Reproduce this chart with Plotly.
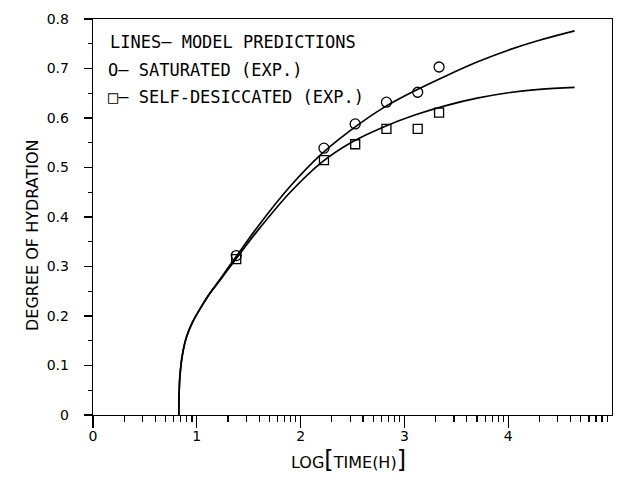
import numpy as np
import plotly.graph_objects as go

# --- data ---
log_time_exp = [1.380, 2.225, 2.526, 2.827, 3.128, 3.334]
saturated_exp = [0.322, 0.539, 0.588, 0.632, 0.652, 0.703]
self_desiccated_exp = [0.315, 0.515, 0.547, 0.578, 0.578, 0.611]

model_x = [0.827, 0.829, 0.838, 0.86, 0.90, 0.96, 1.03, 1.115, 1.22, 1.30, 1.38,
           1.6, 1.9, 2.2, 2.5, 2.8, 3.1, 3.4, 3.7, 4.0, 4.3, 4.64]
model_sat_y = [0.0, 0.04, 0.08, 0.12, 0.157, 0.188, 0.214, 0.243, 0.273, 0.297, 0.320,
               0.384, 0.462, 0.527, 0.578, 0.621, 0.655, 0.685, 0.713, 0.737, 0.757, 0.776]
model_sd_y = [0.0, 0.04, 0.08, 0.12, 0.157, 0.188, 0.214, 0.242, 0.271, 0.294, 0.316,
              0.376, 0.450, 0.510, 0.552, 0.582, 0.606, 0.625, 0.640, 0.651, 0.658, 0.662]

x_major = [0, 1, 2, 3, 4]
x_major_labels = ["0", "1", "2", "3", "4"]
x_minor = [n + np.log10(k) for n in range(5) for k in range(2, 10)]
y_major = [0, 0.1, 0.2, 0.3, 0.4, 0.5, 0.6, 0.7, 0.8]
y_major_labels = ["0", "0.1", "0.2", "0.3", "0.4", "0.5", "0.6", "0.7", "0.8"]
y_minor = [0.05, 0.15, 0.25, 0.35, 0.45, 0.55, 0.65, 0.75]

legend_lines = ["LINES\u2013 MODEL PREDICTIONS",
                "O\u2013 SATURATED (EXP.)",
                "\u25a1\u2013 SELF-DESICCATED (EXP.)"]

FONT = "DejaVu Sans, Liberation Sans, sans-serif"
KEYFONT = "DejaVu Sans Mono, DejaVu Sans, monospace"

L, R, T, B = 93, 7, 19, 64
PW, PH = 619 - L - R, 479 - T - B

fig = go.Figure()
for ys in [model_sat_y, model_sd_y]:
    fig.add_trace(go.Scatter(x=model_x, y=ys, mode="lines",
                             line=dict(color="black", width=1.7, shape="spline", smoothing=1.0),
                             showlegend=False, hoverinfo="skip"))
fig.add_trace(go.Scatter(x=log_time_exp, y=saturated_exp, mode="markers",
                         marker=dict(symbol="circle-open", size=10, color="black",
                                     line=dict(width=1.3, color="black")),
                         showlegend=False))
fig.add_trace(go.Scatter(x=log_time_exp, y=self_desiccated_exp, mode="markers",
                         marker=dict(symbol="square-open", size=9, color="black",
                                     line=dict(width=1.3, color="black")),
                         showlegend=False))

fig.update_layout(
    width=619, height=479, autosize=False,
    margin=dict(l=L, r=R, t=T, b=B, autoexpand=False),
    paper_bgcolor="white", plot_bgcolor="white",
    font=dict(family=FONT, color="black", size=14),
)
fig.update_xaxes(
    range=[0, 5], showgrid=False, zeroline=False, automargin=False,
    showline=True, linecolor="black", linewidth=1.3, mirror=True,
    tickmode="array", tickvals=x_major, ticktext=x_major_labels,
    ticks="outside", ticklen=12, tickwidth=1.3, tickcolor="black",
    ticklabelstandoff=-4,
    minor=dict(tickmode="array", tickvals=x_minor, ticks="outside",
               ticklen=6, tickwidth=1.2, tickcolor="black", showgrid=False),
    tickfont=dict(size=14),
)
fig.update_yaxes(
    range=[0, 0.8], showgrid=False, zeroline=False, automargin=False,
    showline=True, linecolor="black", linewidth=1.3, mirror=True,
    tickmode="array", tickvals=y_major, ticktext=y_major_labels,
    ticks="outside", ticklen=8, tickwidth=1.3, tickcolor="black",
    ticklabelstandoff=12,
    minor=dict(tickmode="array", tickvals=y_minor, ticks="outside",
               ticklen=4, tickwidth=1.2, tickcolor="black", showgrid=False),
    tickfont=dict(size=14),
)

# axis titles
fig.add_annotation(xref="paper", yref="paper", x=(348 - L) / PW, y=0, yshift=-(460 - (T + PH)),
                   xanchor="center", yanchor="middle", showarrow=False,
                   text='LOG<span style="font-size:24px">[</span>TIME(H)<span style="font-size:24px">]</span>',
                   font=dict(size=16, family=FONT))
fig.add_annotation(xref="paper", yref="paper", x=0, y=(T + PH - 236) / PH, xshift=-61,
                   xanchor="center", yanchor="middle", showarrow=False, textangle=-90,
                   text="DEGREE OF HYDRATION", font=dict(size=16, family=FONT))

# in-plot key text
for txt, px, py in zip(legend_lines, [108, 106, 106], [42, 70, 97]):
    fig.add_annotation(xref="paper", yref="paper",
                       x=(px - L) / PW, y=(T + PH - py) / PH,
                       xanchor="left", yanchor="middle", showarrow=False,
                       text=txt, font=dict(size=17, family=KEYFONT))

fig.write_html("out.html",
               config={"displayModeBar": False, "staticPlot": True},
               post_script="document.body.style.margin='0';document.body.style.padding='0';")
